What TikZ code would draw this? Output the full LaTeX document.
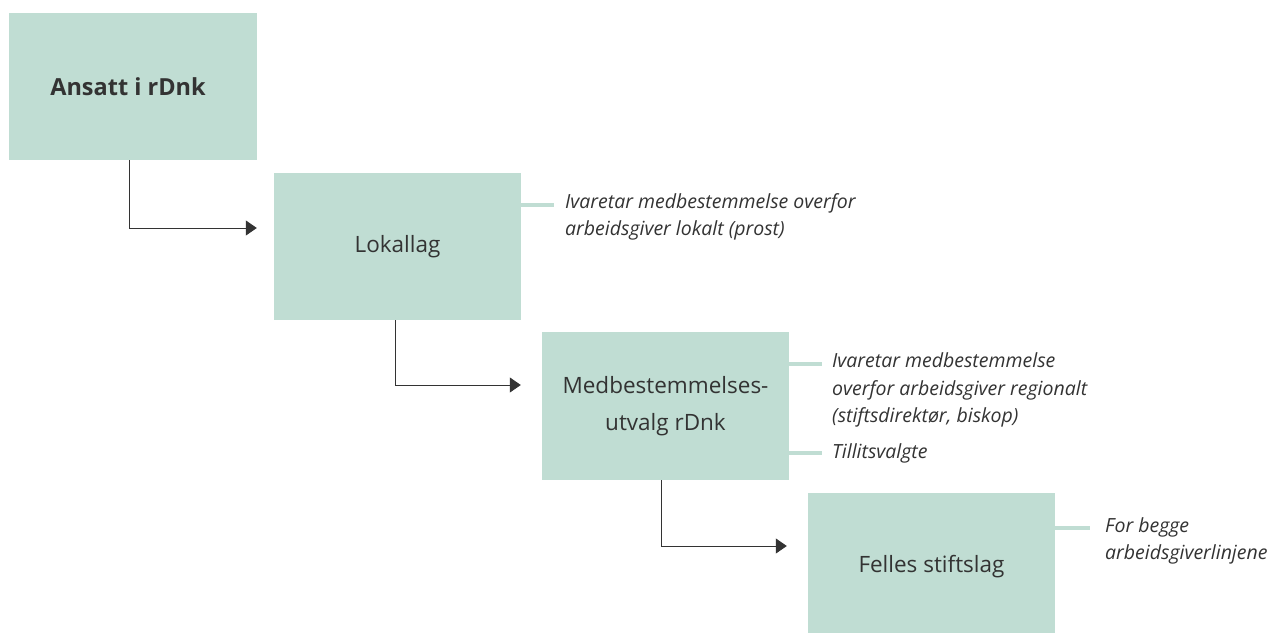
\documentclass[tikz,border=0pt]{standalone}
\usepackage{fontspec}
\setmainfont{Open Sans}
\usetikzlibrary{arrows.meta}
\definecolor{boxgreen}{HTML}{C0DDD3}
\definecolor{txt}{HTML}{333333}
\tikzset{
  box/.style={fill=boxgreen, draw=none, minimum width=247pt, minimum height=147pt, inner sep=0pt, text=txt, align=center, font=\fontsize{22.5}{37}\selectfont},
  conn/.style={draw=txt, line width=1pt, -{Triangle[length=11pt,width=15pt]}},
  tick/.style={draw=boxgreen, line width=4pt},
  note/.style={anchor=west, align=left, inner sep=0pt, text=txt, font=\fontsize{19.5}{27.5}\selectfont\itshape}
}
\begin{document}
\begin{tikzpicture}[x=1pt,y=-1pt]
\useasboundingbox (0,0) rectangle (1281,632);
\node[box, minimum width=248pt, font=\fontsize{23.5}{30}\selectfont\bfseries] (b1) at (133,86.5) {Ansatt i rDnk\hspace*{10pt}};
\node[box] (b2) at (397.5,246.5) {Lokallag};
\node[box, minimum height=148pt] (b3) at (665.5,406) {Medbestemmelses-\\utvalg rDnk};
\node[box] (b4) at (931.5,566.5) {Felles stiftslag};

\draw[conn] ([xshift=-4pt]b1.south) |- ([xshift=-17pt,yshift=18.5pt]b2.west);
\draw[conn] ([xshift=-2.5pt]b2.south) |- ([xshift=-21pt,yshift=21pt]b3.west);
\draw[conn] ([xshift=-4.5pt]b3.south) |- ([xshift=-21pt,yshift=20.5pt]b4.west);

\coordinate (t2) at (554,205);
\draw[tick] (b2.east |- t2) -- (t2);
\node[note] (n2) at (565,217) {Ivaretar medbestemmelse overfor\\arbeidsgiver lokalt (prost)};

\coordinate (t3a) at (822,364);
\draw[tick] (b3.east |- t3a) -- (t3a);
\node[note] (n3a) at (832,390) {Ivaretar medbestemmelse\\overfor arbeidsgiver regionalt\\(stiftsdirektør, biskop)};
\coordinate (t3b) at (822,453);
\draw[tick] (b3.east |- t3b) -- (t3b);
\node[note] (n3b) at (832,453) {Tillitsvalgte};

\coordinate (t4) at (1090,528);
\draw[tick] (b4.east |- t4) -- (t4);
\node[note] (n4) at (1105,541) {For begge\\arbeidsgiverlinjene};
\end{tikzpicture}
\end{document}
